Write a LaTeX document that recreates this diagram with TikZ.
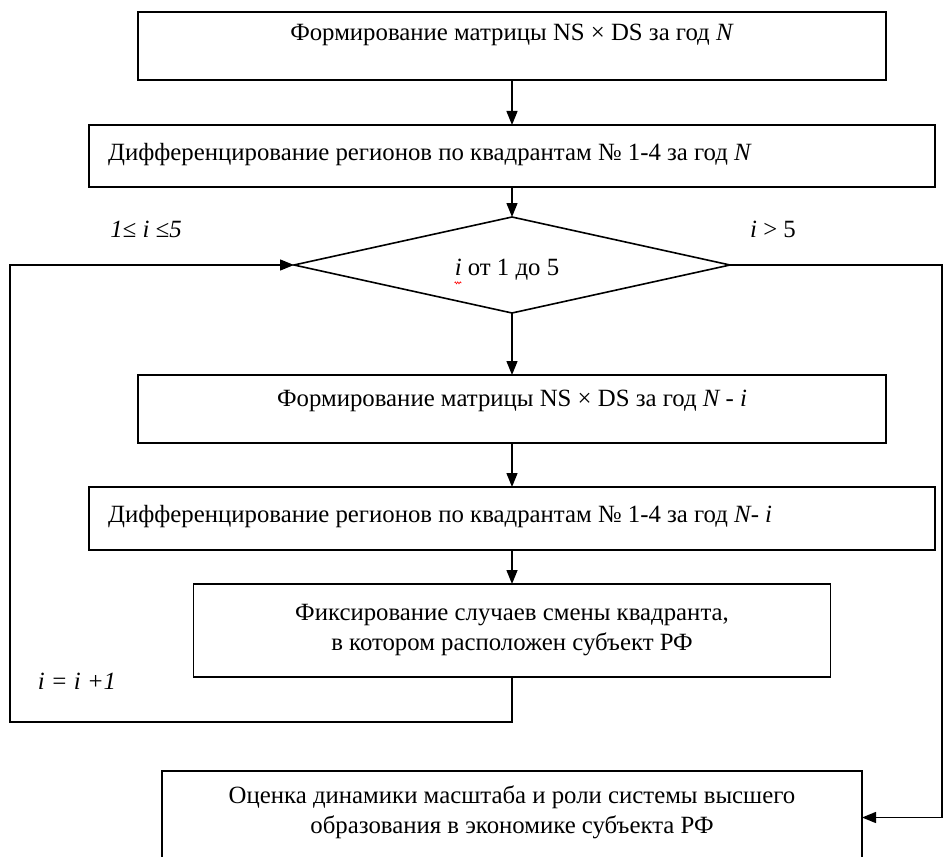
\documentclass[tikz,border=0pt]{standalone}
\usepackage{fontspec}
\setmainfont{Liberation Serif}
\usetikzlibrary{arrows.meta,shapes.geometric,decorations.pathmorphing}
\begin{document}
\begin{tikzpicture}[x=1pt,y=-1pt,
  box/.style={draw, line width=1.6pt, inner sep=0pt, outer sep=0pt},
  txt/.style={font=\fontsize{24.8}{30}\selectfont, inner sep=0pt, align=center},
  conn/.style={line width=1.4pt, -{Triangle[length=14pt,width=11pt]}}]
\useasboundingbox (0,0) rectangle (944,856);
\clip (0,0) rectangle (944,856);
% boxes
\node[box, minimum width=748pt, minimum height=68pt] (b1) at (512,46) {};
\node[txt] (t1) at (512,35) {Формирование матрицы NS × DS за год \textit{N}};
\node[box, minimum width=846pt, minimum height=62pt] (b2) at (512,156) {};
\node[txt, anchor=west] (t2) at (108,155) {Дифференцирование регионов по квадрантам № 1-4 за год \textit{N}};
\node[draw, diamond, line width=1.6pt, minimum width=436pt, minimum height=96pt, inner sep=0pt, outer sep=0pt, shape aspect=4.5] (d) at (512,265) {};
\node[txt] (dt) at (507,270) {\textit{i} от 1 до 5};
\draw[red, line width=0.6pt, decorate, decoration={zigzag, amplitude=1pt, segment length=2.5pt}] ([yshift=-2pt]dt.south west) -- ++(7,0);
\node[box, minimum width=748pt, minimum height=68pt] (b3) at (512,409) {};
\node[txt] (t3) at (512,401) {Формирование матрицы NS × DS за год \textit{N - i}};
\node[box, minimum width=846pt, minimum height=63pt] (b4) at (512,518.5) {};
\node[txt, anchor=west] (t4) at (108,517) {Дифференцирование регионов по квадрантам № 1-4 за год \textit{N- i}};
\node[box, minimum width=637pt, minimum height=93pt] (b5) at (512,630.5) {};
\node[txt] (t5) at (512,630) {Фиксирование случаев смены квадранта,\\ в котором расположен субъект РФ};
\node[box, minimum width=700pt, minimum height=93pt] (b6) at (512,817.5) {};
\node[txt] (t6) at (512,812) {Оценка динамики масштаба и роли системы высшего\\ образования в экономике субъекта РФ};
% labels
\node[txt] (l1) at (146,229) {\textit{1≤ i ≤5}};
\node[txt] (l2) at (773,229) {\textit{i} > 5};
\node[txt] (l3) at (77,681) {\textit{i = i +1}};
% connectors
\draw[conn] (b1.south) -- (b2.north);
\draw[conn] (b2.south) -- (d.north);
\draw[conn] (d.south) -- (b3.north);
\draw[conn] (b3.south) -- (b4.north);
\draw[conn] (b4.south) -- (b5.north);
\coordinate (lb) at (10,722);
\draw[conn] (b5.south) |- (lb) |- (d.west);
\coordinate (rt) at (942,265);
\draw[conn] (d.east) -- (rt) |- (b6.east);
\end{tikzpicture}
\end{document}
